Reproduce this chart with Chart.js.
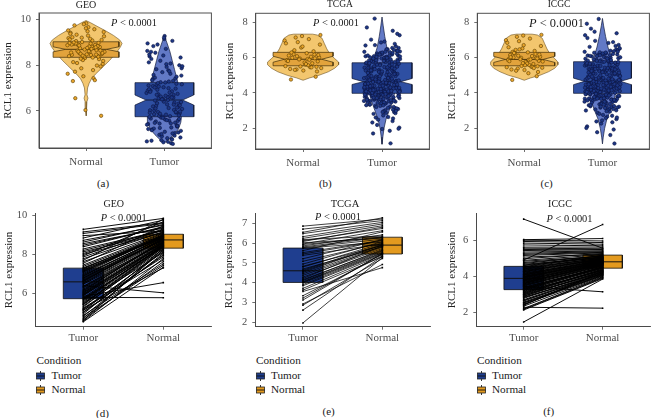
<!DOCTYPE html>
<html><head><meta charset="utf-8">
<script src="https://cdn.jsdelivr.net/npm/chart.js@4.4.1/dist/chart.umd.min.js"></script>
<style>
html,body{margin:0;padding:0;background:#fff;}
#wrap{position:relative;width:654px;height:418px;overflow:hidden;background:#fff;font-family:'Liberation Serif','Times New Roman',serif;color:#1a1a1a;}
canvas{position:absolute;}
.t{position:absolute;white-space:nowrap;line-height:1;transform:translate(-50%,-50%);}
.l{position:absolute;white-space:nowrap;line-height:1;transform:translateY(-50%);}
svg.key{position:absolute;}
</style></head><body><div id="wrap">
<canvas id="ca" width="216" height="173" style="left:0px;top:0px"></canvas>
<canvas id="cb" width="216" height="173" style="left:218px;top:0px"></canvas>
<canvas id="cc" width="214" height="173" style="left:440px;top:0px"></canvas>
<canvas id="cd" width="216" height="150" style="left:0px;top:200px"></canvas>
<canvas id="ce" width="216" height="150" style="left:218px;top:200px"></canvas>
<canvas id="cf" width="214" height="150" style="left:440px;top:200px"></canvas>
</div>
<script>
// ---------- labels ----------
const topLabels = ['Normal', 'Tumor'];
const bottomLabels = ['Tumor', 'Normal'];
const legendTitle = 'Condition';
const legendItems = ['Tumor', 'Normal'];
const yTicksGEO = [6, 8, 10];
const yTicksTop = [2, 4, 6, 8];
const yTicksTCGAPair = [2, 3, 4, 5, 6, 7];
const yTicksICGCPair = [2, 4, 6];

// ---------- GEO ----------
const geoNormal = [
 8.72, 9.05, 8.36, 8.31, 9.41, 8.76, 8.52, 8.05, 9.66, 8.93,
 8.41, 8.22, 9.18, 8.81, 8.63, 7.94, 9.83, 8.45, 8.88, 8.28,
 9.26, 8.57, 6.55, 8.97, 8.38, 9.12, 7.78, 8.85, 8.49, 9.48,
 8.13, 8.66, 9.01, 7.62, 8.44, 9.33, 8.79, 6.03, 8.55, 9.57,
 8.74, 8.18, 8.61, 9.74, 8.83, 7.51, 8.39, 9.08, 8.91, 5.78,
 8.47, 9.22, 8.78, 7.86, 8.58, 9.15, 8.95, 8.26, 8.68, 9.37,
 7.43, 8.86, 8.53, 9.29, 8.99, 7.98, 8.42, 9.52, 8.71, 8.09,
 8.64, 9.61, 8.9, 7.34, 8.5, 9.45, 8.82, 7.71, 8.37, 9.79,
 8.96, 8.33, 8.59, 9.1, 8.75, 7.3, 8.46, 9.2, 8.87, 8.94];
const geoTumorPaired = [
 6.12, 7.45, 5.31, 4.62, 8.38, 6.85, 5.94, 4.83, 7.92, 7.08,
 5.48, 4.71, 8.95, 6.63, 6.21, 5.05, 9.27, 5.66, 7.31, 4.95,
 7.86, 6.47, 5.85, 7.18, 5.74, 8.12, 4.58, 6.92, 5.88, 8.71,
 5.18, 6.36, 7.25, 4.66, 5.57, 8.54, 6.74, 6.4, 6.02, 9.06,
 6.55, 5.12, 6.28, 8.83, 6.97, 4.88, 5.42, 7.62, 7.14, 5.8,
 5.62, 8.27, 6.69, 5.25, 6.08, 7.77, 7.02, 5.36, 6.51, 8.46,
 4.77, 7.21, 5.97, 8.04, 7.38, 5.02, 5.7, 8.62, 6.8, 5.53,
 6.16, 9.14, 6.89, 4.55, 5.78, 7.54, 6.6, 5.22, 5.92, 7.69,
 7.11, 5.45, 6.33, 7.99, 6.66, 5.15, 6.04, 8.19, 6.78, 7.28];
const geoTumorExtra = [
 6.45, 5.33, 7.03, 5.91, 4.74, 6.72, 8.33, 5.59, 6.19, 7.41,
 4.98, 6.88, 5.76, 7.82, 6.31, 5.08, 8.58, 6.57, 5.44, 7.16,
 4.64, 6.01, 7.49, 5.69, 6.94, 5.27, 8.9, 6.24, 5.83, 7.34,
 4.91, 6.62, 5.39, 7.73, 6.1, 5.56, 9.2, 6.83, 5.01, 7.06,
 6.38, 4.8, 7.57, 5.95, 6.5, 5.2, 8.07, 6.7, 5.64, 7.24,
 4.69, 6.27, 5.87, 7.95, 6.99, 5.47, 6.14, 8.42, 5.73, 6.58];

// ---------- TCGA ----------
const tcgaNormal = [
 5.92, 6.31, 5.48, 7.22, 5.87, 6.05, 5.33, 6.74, 5.61, 4.76,
 6.18, 5.95, 5.52, 7.05, 6.42, 5.79, 5.27, 6.12, 5.68, 6.88,
 5.41, 6.25, 5.99, 4.92, 6.57, 5.84, 5.46, 7.14, 6.02, 5.73,
 5.36, 6.36, 5.9, 6.97, 5.57, 6.2, 5.22, 6.63, 5.81, 5.45,
 6.08, 7.28, 5.64, 6.29, 5.96, 5.5, 6.81, 5.88, 5.31, 6.15];
const tcgaTumorPaired = [
 4.52, 5.93, 3.12, 6.86, 4.21, 5.74, 2.61, 6.12, 4.05, 3.55,
 5.21, 4.63, 3.98, 6.48, 5.86, 4.37, 1.96, 5.45, 4.11, 6.24,
 3.71, 6.02, 4.79, 2.92, 5.62, 4.45, 3.84, 6.71, 5.08, 4.28,
 3.34, 6.18, 4.58, 6.33, 4.02, 5.77, 2.86, 5.96, 4.69, 3.22,
 4.94, 6.55, 4.15, 5.81, 5.38, 3.9, 6.08, 4.83, 3.62, 5.52];
const tcgaTumorExtra = [
 4.12, 5.83, 3.46, 4.71, 6.35, 2.88, 4.33, 5.12, 3.91, 7.71,
 4.55, 3.27, 5.64, 4.08, 6.02, 2.41, 4.91, 3.78, 5.36, 4.26,
 6.64, 3.59, 4.47, 1.15, 5.95, 4.18, 3.02, 5.22, 4.62, 6.18,
 3.85, 4.39, 8.21, 5.49, 2.73, 4.03, 5.77, 3.66, 4.84, 6.47,
 4.23, 3.14, 5.06, 4.59, 1.86, 5.71, 3.97, 6.91, 4.36, 2.56,
 5.31, 4.14, 3.71, 6.08, 4.68, 3.38, 5.58, 4.29, 2.19, 7.27,
 4.51, 3.83, 5.15, 6.26, 4.01, 3.53, 4.77, 5.89, 2.97, 4.44,
 6.55, 3.63, 5.43, 4.19, 1.71, 4.96, 3.93, 6.12, 4.31, 3.21,
 5.66, 4.06, 7.02, 3.76, 4.63, 5.27, 2.64, 4.41, 6.39, 3.89,
 5.01, 4.25, 3.44, 5.92, 4.57, 2.33, 6.78, 4.11, 3.68, 5.52,
 4.87, 3.09, 5.98, 4.21, 7.52, 3.81, 4.49, 5.18, 2.82, 4.65,
 6.21, 3.56, 4.98, 4.16, 2.04, 5.76, 3.95, 6.44, 4.38, 3.31,
 5.39, 4.09, 7.35, 3.73, 4.72, 5.61, 2.49, 4.27, 6.05, 3.87,
 5.09, 4.54, 3.49, 6.31, 4.02, 1.98, 5.86, 4.34, 3.61, 4.81,
 6.69, 3.16, 5.46, 4.45, 2.92, 5.24, 3.99, 6.15, 4.13, 3.42];
const tcgaTumorExtra2 = [
 4.42, 5.07, 3.63, 4.88, 5.54, 3.92, 4.17, 5.81, 3.35, 4.69,
 5.26, 4.03, 3.78, 5.95, 4.56, 3.48, 5.13, 4.31, 6.04, 3.87,
 4.74, 5.39, 3.21, 4.95, 5.68, 4.1, 3.69, 6.22, 4.6, 3.99,
 5.33, 4.24, 3.55, 5.02, 4.83, 5.76, 3.41, 4.36, 6.11, 4.67,
 3.81, 5.47, 4.14, 3.06, 5.19, 4.51, 5.88, 3.73, 4.28, 6.29,
 4.92, 3.59, 5.6, 4.07, 3.94, 5.31, 4.46, 3.27, 5.72, 4.79,
 4.19, 6.38, 3.66, 4.99, 5.42, 3.84, 4.33, 5.99, 4.62, 3.51,
 5.16, 4.05, 3.88, 5.85, 4.71, 3.39, 5.28, 4.25, 6.17, 3.97,
 4.85, 5.51, 3.13, 4.41, 5.64, 4.12, 3.76, 6.07, 4.58, 4.01,
 5.37, 4.22, 3.62, 5.04, 4.77, 5.79, 3.47, 4.39, 6.26, 4.64,
 3.91, 5.45, 4.16, 2.98, 5.22, 4.53, 5.91, 3.71, 4.29, 6.33,
 4.96, 3.57, 5.57, 4.09, 3.83, 5.35, 4.48, 3.3, 5.69, 4.81];

// ---------- ICGC (top panel) ----------
const icgcNormal = [
 5.88, 6.27, 5.51, 7.25, 5.93, 6.09, 5.38, 6.66, 5.72, 4.74,
 6.21, 5.99, 5.46, 7.08, 6.44, 5.82, 5.3, 6.15, 5.64, 6.93,
 5.43, 6.3, 6.01, 4.95, 6.52, 5.86, 5.49, 7.18, 6.05, 5.76,
 5.33, 6.38, 5.91, 6.99, 5.59, 6.24, 5.19, 6.71, 5.8, 5.47,
 6.11, 7.29, 5.67, 6.33, 5.97, 5.53, 6.84, 5.9, 5.26, 6.18,
 5.57, 6.03, 5.41, 6.47, 5.78, 5.12, 6.26, 5.95, 5.69, 6.59];
const icgcTumor = [
 4.31, 5.62, 3.58, 4.86, 6.12, 2.95, 4.19, 5.27, 3.82, 7.64,
 4.48, 3.36, 5.74, 4.02, 6.28, 2.52, 4.77, 3.69, 5.41, 4.15,
 6.51, 3.47, 4.59, 1.14, 5.86, 4.27, 3.13, 5.09, 4.68, 6.03,
 3.92, 4.44, 8.19, 5.55, 2.66, 4.07, 5.69, 3.74, 4.93, 6.39,
 4.35, 3.22, 5.18, 4.56, 1.93, 5.79, 3.99, 6.83, 4.4, 2.61,
 5.24, 4.21, 3.63, 6.16, 4.73, 3.28, 5.49, 4.33, 2.27, 7.11,
 4.62, 3.88, 5.03, 6.21, 4.1, 3.5, 4.82, 5.94, 3.04, 4.51,
 6.46, 3.71, 5.36, 4.24, 1.78, 5.01, 3.86, 6.07, 4.38, 3.17,
 5.58, 4.12, 6.95, 3.79, 4.66, 5.32, 2.71, 4.46, 6.33, 3.95,
 5.12, 4.29, 3.41, 5.83, 4.6, 2.39, 6.72, 4.17, 3.61, 5.45,
 4.91, 3.01, 5.91, 4.26, 7.38, 3.84, 4.54, 5.22, 2.88, 4.7,
 6.25, 3.53, 5.06, 4.08, 2.11, 5.71, 3.97, 6.42, 4.42, 3.25,
 5.34, 4.04, 7.27, 3.77, 4.79, 5.66, 2.45, 4.32, 6.01, 3.9,
 5.15, 4.58, 3.44, 6.36, 4.05, 2.02, 5.81, 4.37, 3.66, 4.85,
 6.61, 3.19, 5.52, 4.49, 2.97, 5.28, 4.01, 6.19, 4.16, 3.38,
 4.64, 5.97, 3.56, 4.23, 6.88, 2.82, 4.75, 5.39, 3.73, 4.5,
 5.76, 3.31, 4.97, 4.13, 6.54, 2.58, 4.36, 5.13, 3.85, 7.92,
 4.47, 3.07, 5.63, 4.2, 6.1, 2.34, 4.88, 3.68, 5.3, 4.09,
 6.66, 3.45, 4.53, 1.62, 5.89, 4.3, 3.15, 5.19, 4.71, 6.3,
 3.94, 4.41, 7.47, 5.43, 2.76, 4.03, 5.73, 3.8, 4.95, 5.99];
const icgcTumorExtra = [
 4.37, 5.11, 3.67, 4.83, 5.58, 3.96, 4.22, 5.77, 3.31, 4.64,
 5.29, 4.08, 3.74, 5.9, 4.52, 3.44, 5.16, 4.35, 6.09, 3.83,
 4.7, 5.35, 3.26, 4.99, 5.63, 4.14, 3.65, 6.18, 4.57, 3.95,
 5.3, 4.28, 3.51, 5.06, 4.87, 5.72, 3.37, 4.4, 6.14, 4.63,
 3.85, 5.43, 4.18, 3.09, 5.23, 4.47, 5.84, 3.77, 4.26, 6.24,
 4.89, 3.62, 5.55, 4.11, 3.9, 5.27, 4.5, 3.23, 5.68, 4.75,
 4.15, 6.34, 3.7, 5.03, 5.38, 3.8, 4.3, 5.95, 4.66, 3.55,
 5.2, 4.01, 3.92, 5.82, 4.74, 3.42, 5.25, 4.21, 6.13, 4.0,
 4.81, 5.48, 3.17, 4.45, 5.61, 4.16, 3.72, 6.02, 4.55, 4.04,
 5.33, 4.25, 3.58, 5.0, 4.8, 5.75, 3.5, 4.34, 6.21, 4.6,
 3.94, 5.41, 4.12, 3.02, 5.18, 4.49, 5.87, 3.68, 4.32, 6.29,
 4.93, 3.6, 5.53, 4.06, 3.86, 5.36, 4.43, 3.34, 5.66, 4.78];

// ---------- ICGC (paired panel) ----------
const icgcPairTumor = [
 3.52, 2.41, 4.18, 5.06, 3.11, 3.74, 4.62, 2.86, 3.95, 5.48,
 2.23, 3.38, 4.31, 7.15, 3.67, 2.97, 4.05, 5.21, 3.29, 4.44,
 2.64, 3.83, 4.9, 3.18, 5.73, 2.52, 3.46, 4.12, 1.49, 3.9,
 4.71, 3.05, 2.3, 4.27, 5.92, 3.58, 2.79, 4.53, 3.45, 3.99,
 5.34, 2.15, 3.71, 4.83, 3.24, 4.38, 2.92, 5.61, 3.62, 4.09,
 2.47, 3.87, 4.97, 3.14, 4.22, 6.02, 2.71, 3.54, 4.66, 3.35,
 2.58, 4.48, 3.79, 5.15, 2.99, 4.01, 3.41, 5.83, 2.36, 3.93,
 4.59, 3.21, 2.83, 4.34, 3.66, 5.42, 2.19, 4.15, 3.02, 4.76,
 3.49, 2.68, 5.27, 3.81, 4.25, 2.9, 3.6, 4.41, 5.55, 3.32,
 2.55, 4.07, 3.76, 4.88, 3.08, 5.99, 2.44, 3.97, 4.51, 3.27];
const icgcPairNormal = [
 4.62, 4.28, 4.85, 5.21, 4.39, 4.71, 5.08, 4.12, 4.77, 5.44,
 3.95, 4.53, 4.92, 5.55, 4.66, 4.21, 4.83, 5.32, 4.47, 5.02,
 4.17, 4.74, 6.85, 4.33, 5.68, 4.06, 4.58, 4.88, 3.85, 4.8,
 5.13, 4.41, 2.25, 4.95, 5.86, 4.69, 4.24, 5.17, 3.15, 4.79,
 5.39, 3.88, 4.64, 5.1, 4.45, 4.97, 4.3, 5.61, 4.73, 4.86,
 4.02, 4.76, 5.26, 4.36, 4.91, 6.08, 4.19, 4.6, 5.05, 4.5,
 4.09, 5.0, 4.7, 5.29, 4.26, 4.82, 4.49, 5.77, 3.98, 4.78,
 5.04, 4.44, 4.15, 4.94, 4.67, 5.48, 3.92, 4.89, 4.35, 5.12,
 4.57, 4.11, 5.35, 4.75, 4.98, 4.27, 4.63, 5.01, 5.52, 4.48,
 4.05, 4.87, 4.72, 5.19, 4.32, 5.95, 4.2, 4.81, 5.07, 4.54];

// ---------- box statistics [q1, notch low, median, notch high, q3] ----------
const geoBoxNormal = [8.34, 8.58, 8.69, 8.8, 9.02];
const geoBoxTumor = [5.74, 6.25, 6.47, 6.69, 7.23];
const tcgaBoxNormal = [5.54, 5.74, 5.91, 6.08, 6.30];
const tcgaBoxTumor = [3.98, 4.48, 4.64, 4.82, 5.71];
const icgcBoxNormal = [5.54, 5.73, 5.9, 6.07, 6.30];
const icgcBoxTumor = [3.98, 4.47, 4.66, 4.84, 5.77];
// paired panels [q1, median, q3]
const geoPairBoxTumor = [5.73, 6.59, 7.29];
const geoPairBoxNormal = [8.31, 8.73, 9.02];
const tcgaPairBoxTumor = [4.01, 4.6, 5.75];
const tcgaPairBoxNormal = [5.45, 5.9, 6.3];
const icgcPairBoxTumor = [3.27, 3.89, 4.55];
const icgcPairBoxNormal = [4.45, 4.8, 5.17];

// ---------- violin outlines (value level, half width in category units) ----------
const geoViolinNormalY = [9.95, 9.85, 9.7, 9.5, 9.3, 9.1, 8.95, 8.8, 8.6, 8.4, 8.2, 8.0, 7.8, 7.6, 7.4, 7.2, 7.0, 6.7, 6.55, 6.4, 6.1, 5.78];
const geoViolinNormalW = [0, 0.06, 0.14, 0.25, 0.35, 0.43, 0.46, 0.44, 0.4, 0.35, 0.3, 0.24, 0.18, 0.12, 0.07, 0.04, 0.02, 0.012, 0.025, 0.012, 0.008, 0];
const geoViolinTumorY = [9.27, 9.0, 8.6, 8.2, 7.8, 7.4, 7.0, 6.6, 6.2, 5.8, 5.5, 5.2, 4.95, 4.75, 4.6];
const geoViolinTumorW = [0, 0.03, 0.07, 0.1, 0.13, 0.16, 0.19, 0.21, 0.22, 0.22, 0.21, 0.18, 0.12, 0.06, 0];
const tcgaViolinNormalY = [7.33, 7.28, 7.1, 6.8, 6.5, 6.2, 5.95, 5.75, 5.6, 5.4, 5.2, 5.0, 4.85, 4.72];
const tcgaViolinNormalW = [0.12, 0.18, 0.24, 0.27, 0.3, 0.34, 0.4, 0.45, 0.45, 0.4, 0.32, 0.2, 0.08, 0];
const tcgaViolinTumorY = [8.3, 7.8, 7.2, 6.6, 6.0, 5.5, 5.0, 4.5, 4.0, 3.5, 3.0, 2.5, 2.0, 1.5, 1.1];
const tcgaViolinTumorW = [0, 0.015, 0.035, 0.06, 0.1, 0.13, 0.16, 0.17, 0.16, 0.13, 0.09, 0.05, 0.025, 0.01, 0];
const icgcViolinNormalY = [7.33, 7.28, 7.1, 6.8, 6.5, 6.2, 5.95, 5.75, 5.6, 5.4, 5.2, 5.0, 4.85, 4.72];
const icgcViolinNormalW = [0.1, 0.17, 0.23, 0.26, 0.29, 0.33, 0.39, 0.43, 0.43, 0.39, 0.31, 0.2, 0.08, 0];
const icgcViolinTumorY = [8.22, 7.8, 7.2, 6.6, 6.0, 5.5, 5.0, 4.5, 4.0, 3.5, 3.0, 2.5, 2.0, 1.5, 1.12];
const icgcViolinTumorW = [0, 0.015, 0.04, 0.07, 0.11, 0.14, 0.17, 0.18, 0.17, 0.14, 0.1, 0.055, 0.028, 0.01, 0];

// ---------- styling ----------
const FONT = "'Liberation Serif','Times New Roman',serif";
const AX = '#4a4a4a';
const C = {
  vioN: '#F3C66E', vioT: '#6279C6', boxN: '#E2A33C', boxT: '#2E4FA2',
  ptN: '#E9A52B', ptNb: '#5a3c00', ptT: '#1D3785', ptTb: '#0b1440',
  pairT: '#1F3E8F', pairN: '#E39A1F'
};

function violin(center, ys, ws) {
  const right = ys.map((y, i) => ({x: center + ws[i], y}));
  const left = ys.map((y, i) => ({x: center - ws[i], y})).reverse();
  const pts = right.concat(left); pts.push(pts[0]); return pts;
}
function notchBox(c, b, hw, nw) {
  const [q1, nl, med, nh, q3] = b;
  return [{x:c-hw,y:q3},{x:c+hw,y:q3},{x:c+hw,y:nh},{x:c+hw*nw,y:med},{x:c+hw,y:nl},{x:c+hw,y:q1},
          {x:c-hw,y:q1},{x:c-hw,y:nl},{x:c-hw*nw,y:med},{x:c-hw,y:nh},{x:c-hw,y:q3}];
}
function rectBox(c, b, hw) {
  const [q1, , q3] = b;
  return [{x:c-hw,y:q3},{x:c+hw,y:q3},{x:c+hw,y:q1},{x:c-hw,y:q1},{x:c-hw,y:q3}];
}
function jitter(c, vals, jw) {
  return vals.map((v, i) => ({x: c + ((((i + 1) * 0.6180339887) % 1) - 0.5) * 2 * jw, y: v}));
}
const frame = { id: 'frame', afterDraw(chart) {
  const {ctx, chartArea: a} = chart; ctx.save(); ctx.strokeStyle = '#505050'; ctx.lineWidth = 1;
  ctx.strokeRect(a.left, a.top, a.right - a.left, a.bottom - a.top); ctx.restore(); } };

function xScale(labels, xh, pad) {
  return { type: 'linear', min: 0.4, max: 2.6,
    afterBuildTicks: s => { s.ticks = [{value: 1}, {value: 2}]; },
    ticks: { callback: v => labels[Math.round(v) - 1], font: {family: FONT, size: 11}, color: '#4d4d4d', padding: pad, maxRotation: 0, autoSkip: false },
    grid: { display: true, drawOnChartArea: false, drawTicks: true, tickLength: 3, color: AX, lineWidth: 0.8 },
    border: { display: true, color: AX, width: 1 },
    afterFit: s => { s.height = xh; } };
}
function yScale(min, max, tickVals, yw, tpad) {
  return { type: 'linear', min, max,
    afterBuildTicks: s => { s.ticks = tickVals.map(v => ({value: v})); },
    ticks: { callback: v => String(v), font: {family: FONT, size: 10.5}, color: '#4d4d4d', padding: 5 },
    grid: { display: true, drawOnChartArea: false, drawTicks: true, tickLength: 3, color: AX, lineWidth: 0.8 },
    border: { display: true, color: AX, width: 1 },
    title: { display: true, text: 'RCL1 expression', font: {family: FONT, size: 11}, color: '#222', padding: {top: tpad, bottom: 0} },
    afterFit: s => { s.width = yw; } };
}
function baseOptions(pad, xs, ys) {
  return { responsive: false, animation: false, events: [],
    layout: { padding: pad },
    plugins: { legend: {display: false}, tooltip: {enabled: false} },
    scales: { x: xs, y: ys } };
}

function topChart(id, g) {
  const ds = [];
  ds.push({data: violin(1, g.vnY, g.vnW), showLine: true, fill: 'shape', backgroundColor: C.vioN, borderColor: '#6b5020', borderWidth: 0.6, pointRadius: 0, order: 5});
  ds.push({data: violin(2, g.vtY, g.vtW), showLine: true, fill: 'shape', backgroundColor: C.vioT, borderColor: '#141c3c', borderWidth: 0.7, pointRadius: 0, order: 5});
  ds.push({data: notchBox(1, g.bn, g.hwN, 0.62), showLine: true, fill: 'shape', backgroundColor: C.boxN, borderColor: '#3d2c08', borderWidth: 0.7, pointRadius: 0, order: 4});
  ds.push({data: notchBox(2, g.bt, g.hwT, 0.62), showLine: true, fill: 'shape', backgroundColor: C.boxT, borderColor: '#0e1530', borderWidth: 0.7, pointRadius: 0, order: 4});
  ds.push({data: [{x: 1 - g.hwN * 0.62, y: g.bn[2]}, {x: 1 + g.hwN * 0.62, y: g.bn[2]}], showLine: true, borderColor: '#3d2c08', borderWidth: 0.9, pointRadius: 0, order: 3});
  ds.push({data: [{x: 2 - g.hwT * 0.62, y: g.bt[2]}, {x: 2 + g.hwT * 0.62, y: g.bt[2]}], showLine: true, borderColor: '#0e1530', borderWidth: 0.9, pointRadius: 0, order: 3});
  ds.push({data: jitter(1, g.pn, 0.24), pointRadius: 1.7, backgroundColor: C.ptN, borderColor: C.ptNb, borderWidth: 0.6, order: 1});
  ds.push({data: jitter(2, g.pt, 0.23), pointRadius: 1.7, backgroundColor: C.ptT, borderColor: C.ptTb, borderWidth: 0.6, order: 0});
  return new Chart(document.getElementById(id), { type: 'scatter', data: {datasets: ds},
    options: baseOptions(g.pad, xScale(topLabels, g.xh, 5), yScale(g.ymin, g.ymax, g.ticks, g.yw, g.tpad)), plugins: [frame] });
}
function pairChart(id, g) {
  const ds = [];
  ds.push({data: rectBox(1, g.bt, 0.25), showLine: true, fill: 'shape', backgroundColor: C.pairT, borderColor: '#111', borderWidth: 0.8, pointRadius: 0, order: 9});
  ds.push({data: rectBox(2, g.bn, 0.25), showLine: true, fill: 'shape', backgroundColor: C.pairN, borderColor: '#111', borderWidth: 0.8, pointRadius: 0, order: 9});
  ds.push({data: [{x: 0.75, y: g.bt[1]}, {x: 1.25, y: g.bt[1]}], showLine: true, borderColor: '#111', borderWidth: 1, pointRadius: 0, order: 8});
  ds.push({data: [{x: 1.75, y: g.bn[1]}, {x: 2.25, y: g.bn[1]}], showLine: true, borderColor: '#111', borderWidth: 1, pointRadius: 0, order: 8});
  g.t.forEach((v, i) => {
    ds.push({data: [{x: 1, y: v}, {x: 2, y: g.n[i]}], showLine: true, borderColor: '#000', borderWidth: g.lw, pointRadius: 0, order: 2});
  });
  ds.push({data: g.t.map(v => ({x: 1, y: v})).concat(g.n.map(v => ({x: 2, y: v}))), pointStyle: 'rect', pointRadius: 1.1, backgroundColor: '#000', borderWidth: 0, order: 1});
  return new Chart(document.getElementById(id), { type: 'scatter', data: {datasets: ds},
    options: baseOptions(g.pad, xScale(bottomLabels, g.xh, 2), yScale(g.ymin, g.ymax, g.ticks, g.yw, g.tpad)) });
}

topChart('ca', { vnY: geoViolinNormalY, vnW: geoViolinNormalW, vtY: geoViolinTumorY, vtW: geoViolinTumorW,
  bn: geoBoxNormal, bt: geoBoxTumor, hwN: 0.42, hwT: 0.375, pn: geoNormal, pt: geoTumorPaired.concat(geoTumorExtra),
  pad: {left: 0, right: 3, top: 13, bottom: 0}, xh: 25, yw: 39, tpad: 2, ymin: 4.37, ymax: 10.28, ticks: yTicksGEO });
topChart('cb', { vnY: tcgaViolinNormalY, vnW: tcgaViolinNormalW, vtY: tcgaViolinTumorY, vtW: tcgaViolinTumorW,
  bn: tcgaBoxNormal, bt: tcgaBoxTumor, hwN: 0.38, hwT: 0.38, pn: tcgaNormal, pt: tcgaTumorPaired.concat(tcgaTumorExtra, tcgaTumorExtra2),
  pad: {left: 0, right: 2.3, top: 13.3, bottom: 0}, xh: 24, yw: 37.7, tpad: 5.4, ymin: 0.83, ymax: 8.51, ticks: yTicksTop });
topChart('cc', { vnY: icgcViolinNormalY, vnW: icgcViolinNormalW, vtY: icgcViolinTumorY, vtW: icgcViolinTumorW,
  bn: icgcBoxNormal, bt: icgcBoxTumor, hwN: 0.39, hwT: 0.37, pn: icgcNormal, pt: icgcTumor.concat(icgcTumorExtra),
  pad: {left: 0, right: 0.7, top: 13.3, bottom: 0}, xh: 24, yw: 37.3, tpad: 5.4, ymin: 0.83, ymax: 8.51, ticks: yTicksTop });
pairChart('cd', { t: geoTumorPaired, n: geoNormal, bt: geoPairBoxTumor, bn: geoPairBoxNormal, lw: 0.95,
  pad: {left: 0, right: 4.7, top: 13.3, bottom: 0}, xh: 23.3, yw: 35.3, tpad: 2.1, ymin: 4.30, ymax: 10.09, ticks: yTicksGEO });
pairChart('ce', { t: tcgaTumorPaired, n: tcgaNormal, bt: tcgaPairBoxTumor, bn: tcgaPairBoxNormal, lw: 0.75,
  pad: {left: 0, right: 2.7, top: 13.3, bottom: 0}, xh: 23.3, yw: 37.3, tpad: 4.4, ymin: 1.77, ymax: 7.51, ticks: yTicksTCGAPair });
pairChart('cf', { t: icgcPairTumor, n: icgcPairNormal, bt: icgcPairBoxTumor, bn: icgcPairBoxNormal, lw: 0.95,
  pad: {left: 0, right: 1, top: 13.3, bottom: 0}, xh: 23.3, yw: 36.3, tpad: 5.7, ymin: 1.23, ymax: 7.47, ticks: yTicksICGCPair });

// ---------- text ----------
const wrap = document.getElementById('wrap');
function txt(html, x, y, size, cls) {
  const d = document.createElement('div'); d.className = cls || 't'; d.innerHTML = html;
  d.style.left = x + 'px'; d.style.top = y + 'px'; d.style.fontSize = size + 'px'; wrap.appendChild(d); return d;
}
const P = '<i>P</i> &lt; 0.0001';
txt('GEO', 86, 4.5, 10); txt('TCGA', 340, 4.5, 9.5); txt('ICGC', 559, 4.5, 9.5);
txt('GEO', 113.7, 203.5, 10); txt('TCGA', 345, 204, 10.5); txt('ICGC', 560, 204, 10);
txt(P, 134, 22.7, 10.4); txt(P, 336, 22.7, 10.4); txt(P, 556.5, 22.7, 12.4);
txt(P, 123.7, 218.3, 10.4); txt(P, 338, 217.3, 10.4); txt(P, 569.5, 219.3, 10.4);
txt('(a)', 103, 182.7, 11); txt('(b)', 325.3, 182.7, 11); txt('(c)', 546.7, 182.7, 11);
txt('(d)', 102.5, 413, 11); txt('(e)', 328.7, 411, 11); txt('(f)', 548.7, 411, 11);

const keyColors = [C.pairT, C.pairN];
[36, 255.5, 476.5].forEach(x0 => {
  txt(legendTitle, x0 + 0.5, 360.7, 11.2, 'l');
  [375.8, 390].forEach((yc, k) => {
    const s = document.createElementNS('http://www.w3.org/2000/svg', 'svg');
    s.setAttribute('class', 'key'); s.setAttribute('width', '9'); s.setAttribute('height', '10');
    s.style.left = x0 + 'px'; s.style.top = (yc - 5) + 'px';
    s.innerHTML = '<line x1="4.5" y1="0" x2="4.5" y2="2" stroke="#222" stroke-width="0.9"/>' +
      '<rect x="0.5" y="2" width="8" height="6" fill="' + keyColors[k] + '" stroke="#222" stroke-width="0.8"/>' +
      '<line x1="0.5" y1="5" x2="8.5" y2="5" stroke="#111" stroke-width="0.9"/>' +
      '<line x1="4.5" y1="8" x2="4.5" y2="10" stroke="#222" stroke-width="0.9"/>';
    wrap.appendChild(s);
    txt(legendItems[k], x0 + 15.5, yc, 11.2, 'l');
  });
});
</script></body></html>
